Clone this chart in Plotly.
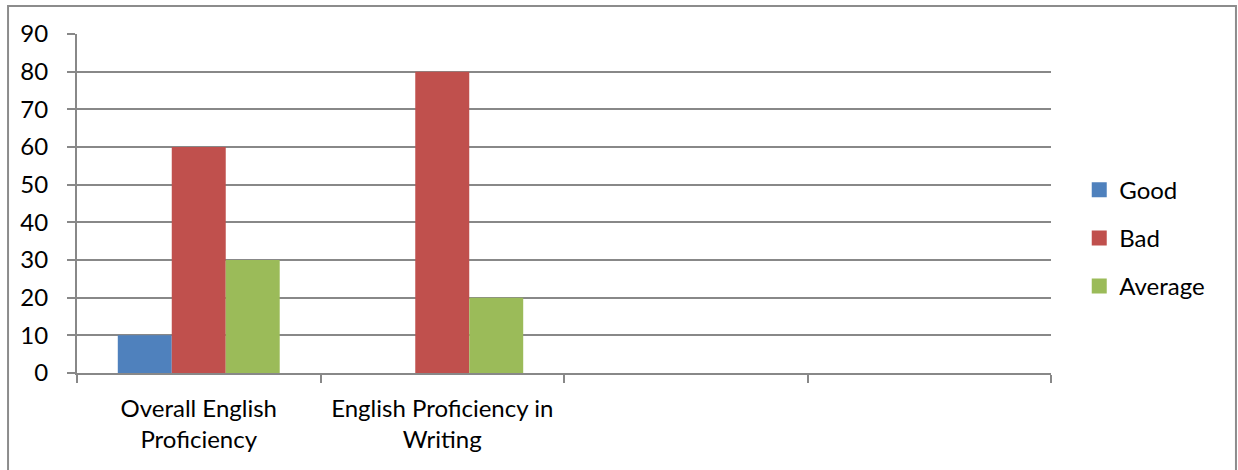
import plotly.graph_objects as go

# Category slots on the x axis (the last two are left empty)
categories = ["Overall English<br>Proficiency", "English Proficiency in<br>Writing", " ", "  "]
good = [10, 0]
bad = [60, 80]
average = [30, 20]
y_ticks = [0, 10, 20, 30, 40, 50, 60, 70, 80, 90]

GRID = "#888888"
FONT = dict(family="Lato, 'Open Sans', sans-serif", size=24, color="#000000")

fig = go.Figure()
series = [("Good", good, "#4F81BD"), ("Bad", bad, "#C0504D"), ("Average", average, "#9BBB59")]
for name, vals, color in series:
    fig.add_trace(go.Bar(
        x=categories[:len(vals)], y=vals, name=name,
        marker=dict(color=color, line=dict(width=0)),
        legendgroup=name, showlegend=False,
    ))
    # square legend key for the series
    fig.add_trace(go.Scatter(
        x=[None], y=[None], mode="markers", name=name,
        marker=dict(symbol="square", size=15, color=color),
        legendgroup=name, showlegend=True,
    ))

fig.update_layout(
    width=1238, height=470,
    margin=dict(l=77, r=187, t=34, b=97),
    paper_bgcolor="white", plot_bgcolor="white",
    font=FONT,
    barmode="group", bargap=0.335, bargroupgap=0,
    showlegend=True,
    legend=dict(x=1.029, xanchor="left", y=0.398, yanchor="middle",
                tracegroupgap=14, font=FONT, bgcolor="rgba(0,0,0,0)",
                itemwidth=30),
    xaxis=dict(
        type="category", categoryorder="array", categoryarray=categories,
        range=[-0.5, 3.5], tickson="boundaries", ticks="outside",
        ticklen=8, tickwidth=2, tickcolor=GRID,
        showline=True, linecolor=GRID, linewidth=2,
        showgrid=False, zeroline=False, ticklabelstandoff=13,
    ),
    yaxis=dict(
        range=[0, 90], tickvals=y_ticks, ticks="outside",
        ticklen=8, tickwidth=2, tickcolor=GRID,
        showline=True, linecolor=GRID, linewidth=2,
        showgrid=True, gridcolor=GRID, gridwidth=2,
        zeroline=False, ticklabelstandoff=14,
    ),
    shapes=[dict(
        type="rect", xref="paper", yref="paper",
        x0=-0.0708, x1=1.1899, y0=-0.35, y1=1.0826,
        line=dict(color="#8c8c8c", width=2), fillcolor="rgba(0,0,0,0)", layer="below",
    )],
)

fig.write_html("out.html")
